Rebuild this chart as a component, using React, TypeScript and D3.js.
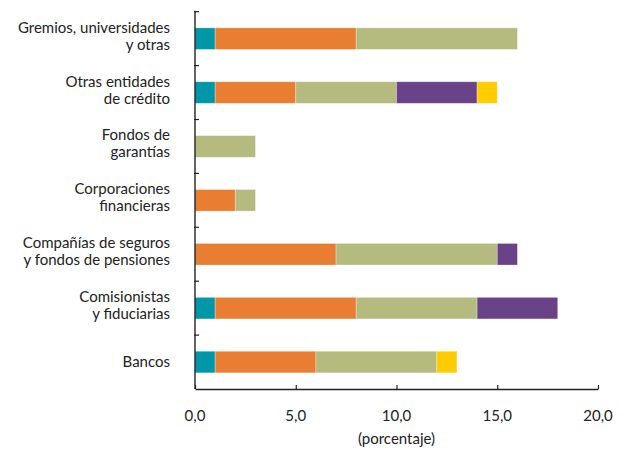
import { useEffect, useRef } from "react"
import * as d3 from "d3"

// categories, top to bottom (each label split on two lines where the original wraps)
const CATEGORIES = [
  ["Gremios, universidades", "y otras"],
  ["Otras entidades", "de crédito"],
  ["Fondos de", "garantías"],
  ["Corporaciones", "financieras"],
  ["Compañías de seguros", "y fondos de pensiones"],
  ["Comisionistas", "y fiduciarias"],
  ["Bancos"],
]

// stacked segments, in stacking order (left to right)
const TEAL   = [1, 1, 0, 0, 0, 1, 1]
const ORANGE = [7, 4, 0, 2, 7, 7, 5]
const GREEN  = [8, 5, 3, 1, 8, 6, 6]
const PURPLE = [0, 4, 0, 0, 1, 4, 0]
const YELLOW = [0, 1, 0, 0, 0, 0, 1]

const SERIES = [TEAL, ORANGE, GREEN, PURPLE, YELLOW]
const SERIES_KEYS = ["teal", "orange", "green", "purple", "yellow"]
const COLORS = ["#0097a9", "#e97e32", "#b5ba7f", "#6a4287", "#ffcc00"]

const X_TICKS = [0, 5, 10, 15, 20]

const W = 626
const H = 451
const MARGIN_L = 195
const MARGIN_R = 28
const MARGIN_T = 11.7
const PLOT_B = 389

const FONT = "Lato, sans-serif"

export default function App() {
  const svgRef = useRef<SVGSVGElement>(null)

  useEffect(() => {
    document.body.style.margin = "0"
    if (!svgRef.current) return
    const svg = d3.select(svgRef.current)
    svg.selectAll("*").remove()

    const x = d3.scaleLinear().domain([0, 20]).range([MARGIN_L, W - MARGIN_R])
    const y = d3
      .scaleBand<number>()
      .domain(d3.range(CATEGORIES.length))
      .range([MARGIN_T, PLOT_B])
      .paddingInner(0.6)
      .paddingOuter(0.3)

    const rows = CATEGORIES.map((_, i) => {
      const r: Record<string, number> = { idx: i }
      SERIES_KEYS.forEach((k, j) => (r[k] = SERIES[j][i]))
      return r
    })
    const stacked = d3.stack<Record<string, number>>().keys(SERIES_KEYS)(rows)

    // bars
    stacked.forEach((layer, j) => {
      svg
        .append("g")
        .selectAll("rect")
        .data(layer.filter((d) => d[1] - d[0] > 0))
        .join("rect")
        .attr("x", (d) => x(d[0]))
        .attr("width", (d) => x(d[1]) - x(d[0]))
        .attr("y", (d) => y(d.data.idx)!)
        .attr("height", y.bandwidth())
        .attr("fill", COLORS[j])
        .attr("stroke", "#ffffff")
        .attr("stroke-opacity", 0.35)
        .attr("stroke-width", 0.8)
    })

    // x axis
    const step = (PLOT_B - MARGIN_T) / CATEGORIES.length
    svg
      .append("g")
      .attr("transform", `translate(0,${PLOT_B})`)
      .call(d3.axisBottom(x).tickValues(X_TICKS).tickSizeInner(-4).tickSizeOuter(0).tickFormat(() => ""))
      .call((g) => g.select(".domain").attr("stroke", "#222").attr("stroke-width", 1.4))
      .call((g) => g.selectAll(".tick line").attr("stroke", "#222").attr("stroke-width", 1.2))

    svg
      .append("g")
      .selectAll("text")
      .data(X_TICKS)
      .join("text")
      .attr("x", (d) => x(d))
      .attr("y", 421)
      .attr("text-anchor", "middle")
      .attr("font-family", FONT)
      .attr("font-size", 15)
      .attr("fill", "#222")
      .text((d) => d3.format(".1f")(d).replace(".", ","))

    svg
      .append("text")
      .attr("x", (x(0) + x(20)) / 2)
      .attr("y", 444)
      .attr("text-anchor", "middle")
      .attr("font-family", FONT)
      .attr("font-size", 15)
      .attr("fill", "#222")
      .text("(porcentaje)")

    // y axis
    svg
      .append("line")
      .attr("x1", MARGIN_L)
      .attr("x2", MARGIN_L)
      .attr("y1", MARGIN_T - 1)
      .attr("y2", PLOT_B)
      .attr("stroke", "#222")
      .attr("stroke-width", 1.4)

    svg
      .append("g")
      .selectAll("line")
      .data(d3.range(CATEGORIES.length))
      .join("line")
      .attr("x1", MARGIN_L - 1)
      .attr("x2", MARGIN_L + 4)
      .attr("y1", (i) => MARGIN_T + i * step)
      .attr("y2", (i) => MARGIN_T + i * step)
      .attr("stroke", "#222")
      .attr("stroke-width", 1.2)

    // category labels
    CATEGORIES.forEach((lines, i) => {
      const cy = y(i)! + y.bandwidth() / 2
      const t = svg
        .append("text")
        .attr("text-anchor", "end")
        .attr("font-family", FONT)
        .attr("font-size", 15)
        .attr("fill", "#222")
      if (lines.length === 1) {
        t.append("tspan").attr("x", 170).attr("y", cy + 5).text(lines[0])
      } else {
        t.append("tspan").attr("x", 170).attr("y", cy - 6).text(lines[0])
        t.append("tspan").attr("x", 170).attr("y", cy + 11).text(lines[1])
      }
    })
  }, [])

  return <svg ref={svgRef} width={W} height={H} style={{ display: "block" }} />
}
